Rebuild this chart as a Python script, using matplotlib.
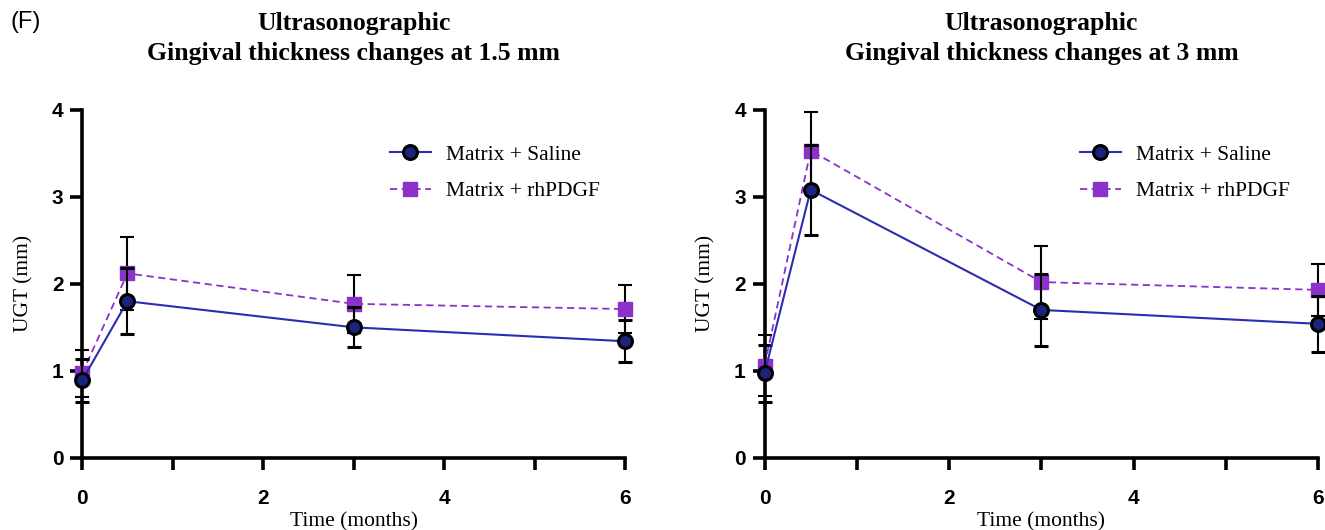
import matplotlib
matplotlib.use("Agg")
import matplotlib.pyplot as plt
from matplotlib.ticker import MultipleLocator
from matplotlib.lines import Line2D

# ---- data ----
time_months = [0, 0.5, 3, 6]

saline_15 = [0.89, 1.80, 1.50, 1.34]
saline_15_err = [0.25, 0.38, 0.23, 0.24]
pdgf_15 = [0.97, 2.12, 1.77, 1.71]
pdgf_15_err = [0.27, 0.42, 0.33, 0.28]

saline_3 = [0.97, 3.08, 1.70, 1.54]
saline_3_err = [0.33, 0.52, 0.41, 0.32]
pdgf_3 = [1.06, 3.53, 2.02, 1.93]
pdgf_3_err = [0.35, 0.44, 0.42, 0.30]

titles = ["Ultrasonographic\nGingival thickness changes at 1.5 mm",
          "Ultrasonographic\nGingival thickness changes at 3 mm"]
series_labels = ["Matrix + Saline", "Matrix + rhPDGF"]
y_ticks = [0, 1, 2, 3, 4]
x_ticks = [0, 2, 4, 6]
ylabel = "UGT (mm)"
xlabel = "Time (months)"

SERIF = "Liberation Serif"
SANS = "Liberation Sans"
BLUE = "#2b2db0"
NAVY = "#1a237e"
PURPLE = "#8a32c9"

fig = plt.figure(figsize=(13.25, 5.3), dpi=100)
axes_rects = [[0.062, 0.136, 0.410, 0.657], [0.577, 0.136, 0.418, 0.657]]
legend_anchor = [(0.988, 0.955), (0.983, 0.955)]
panels = [(saline_15, saline_15_err, pdgf_15, pdgf_15_err),
          (saline_3, saline_3_err, pdgf_3, pdgf_3_err)]

sal_style = dict(color=BLUE, ls="-", lw=1.5, marker="o", ms=10,
                 mfc=NAVY, mec="black", mew=2.2)
pdgf_style = dict(color=PURPLE, ls=(0, (4, 2.5)), lw=1.3, marker="s", ms=10,
                  mfc=PURPLE, mec=PURPLE)

for i, (rect, (s, se, p, pe)) in enumerate(zip(axes_rects, panels)):
    ax = fig.add_axes(rect)
    ax.errorbar(time_months, p, yerr=pe, ecolor="black", elinewidth=1.5,
                capsize=5, capthick=1.5, clip_on=False, zorder=3, **pdgf_style)
    ax.errorbar(time_months, s, yerr=se, ecolor="black", elinewidth=1.5,
                capsize=5, capthick=1.5, clip_on=False, zorder=4, **sal_style)
    ax.set_xlim(0, 6)
    ax.set_ylim(0, 4)
    ax.set_yticks(y_ticks)
    ax.set_xticks(x_ticks)
    ax.xaxis.set_minor_locator(MultipleLocator(1))
    for sp in ["top", "right"]:
        ax.spines[sp].set_visible(False)
    for sp in ["left", "bottom"]:
        ax.spines[sp].set_linewidth(2.6)
    ax.tick_params(which="both", direction="out", length=8.5, width=2.6)
    ax.tick_params(axis="x", which="major", pad=14)
    ax.tick_params(axis="y", which="major", pad=5)
    for lab in ax.get_xticklabels() + ax.get_yticklabels():
        lab.set_fontfamily(SANS)
        lab.set_fontweight("bold")
        lab.set_fontsize(15)
    ax.set_ylabel(ylabel, fontfamily=SERIF, fontsize=15.5, labelpad=13)
    ax.set_xlabel(xlabel, fontfamily=SERIF, fontsize=15.5, labelpad=3)
    ax.set_title(titles[i], fontfamily=SERIF, fontweight="bold", fontsize=18.5,
                 pad=36, linespacing=1.35)
    handles = [Line2D([], [], **sal_style), Line2D([], [], **pdgf_style)]
    ax.legend(handles, series_labels, loc="upper right", bbox_to_anchor=legend_anchor[i],
              frameon=False, prop={"family": SERIF, "size": 15.5},
              handlelength=1.9, handletextpad=0.7, labelspacing=0.75)

fig.text(0.008, 0.958, "(F)", fontfamily=SANS, fontsize=17, va="center")

fig.savefig("out.png", dpi=100)
